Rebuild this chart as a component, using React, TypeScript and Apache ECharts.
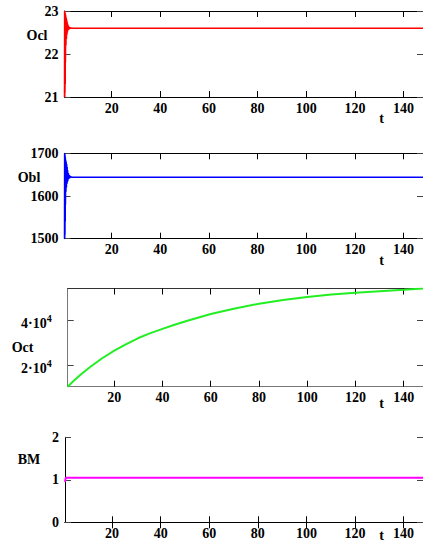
import React, { useEffect, useRef } from "react";
import * as echarts from "echarts";

// ---- data ----
const tickT = [20, 40, 60, 80, 100, 120, 140];

const oclT = [0.6, 0.65, 0.7, 0.75, 0.8, 0.85, 0.9, 0.95, 1.0, 1.1, 1.2, 1.3, 1.4, 1.5, 1.6, 1.7, 1.8, 1.9, 2.0, 2.2, 2.4, 2.6, 2.8, 3.0, 3.5, 148];
const oclV = [21.0, 23.0, 21.0, 23.0, 21.1, 22.95, 21.3, 22.95, 21.8, 22.9, 22.2, 22.85, 22.35, 22.8, 22.45, 22.75, 22.5, 22.7, 22.55, 22.66, 22.57, 22.63, 22.59, 22.61, 22.6, 22.6];

const oblT = [0.6, 0.65, 0.7, 0.75, 0.8, 0.85, 0.9, 0.95, 1.0, 1.1, 1.2, 1.3, 1.4, 1.5, 1.6, 1.7, 1.8, 1.9, 2.0, 2.2, 2.4, 2.6, 2.8, 3.0, 3.5, 148];
const oblV = [1500, 1700, 1500, 1700, 1510, 1695, 1540, 1690, 1580, 1685, 1610, 1680, 1620, 1675, 1628, 1668, 1632, 1660, 1636, 1654, 1640, 1649, 1642, 1646, 1644, 1644];

const octT = [0.7, 3, 6, 10, 15, 20, 25, 30, 35, 40, 45, 50, 55, 60, 70, 80, 90, 100, 110, 120, 130, 140, 148];
const octV = [10500, 12900, 15800, 19300, 23200, 26600, 29500, 32200, 34400, 36300, 38100, 39800, 41400, 42900, 45400, 47500, 49200, 50500, 51600, 52400, 53100, 53700, 54300];

const bmT = [0.6, 0.8, 1.0, 1.5, 148];
const bmV = [0.95, 1.02, 1.05, 1.05, 1.05];

const octTicks = [20000, 40000];

const FONT = "'Liberation Serif', 'Times New Roman', Times, serif";
const txt = { fontFamily: FONT, fontWeight: "bold" as const, fontSize: 14, color: "#000" };

const pairs = (t: number[], v: number[]) => t.map((x, i) => [x, v[i]]);

export default function App() {
  const ref = useRef<HTMLDivElement>(null);
  useEffect(() => {
    if (!ref.current) return;
    const chart = echarts.init(ref.current, undefined, { renderer: "svg" });

    const grids = [
      { left: 64.5, top: 11, width: 359, height: 86 },
      { left: 64.5, top: 153.3, width: 359, height: 85.4 },
      { left: 67.7, top: 288.5, width: 355.6, height: 98.2 },
      { left: 65, top: 437.3, width: 358.5, height: 85 },
    ];
    const xMins = [0.6, 0.6, 0.7, 0.6];
    const lineCols = [
      ["#000", "#000"],
      ["#000", "#000"],
      ["#777", "#333"],
      ["#000", "#000"],
    ];

    const xAxis: any[] = [];
    const yAxis: any[] = [];
    grids.forEach((g, i) => {
      const base = {
        type: "value",
        gridIndex: i,
        min: xMins[i],
        max: 148,
        splitLine: { show: false },
        axisLine: { show: true, lineStyle: { color: lineCols[i][0], width: 1 } },
        axisTick: { show: true, inside: true, length: 6, customValues: tickT, lineStyle: { color: "#000" } },
      };
      xAxis.push({
        ...base,
        position: "bottom",
        axisLabel: { ...txt, margin: 4, customValues: tickT, formatter: (v: number) => String(v) },
      });
      xAxis.push({
        ...base,
        position: "top",
        axisLine: { show: true, lineStyle: { color: lineCols[i][1], width: 1 } },
        axisLabel: { show: false, customValues: tickT },
      });
    });

    const yDefs: any[] = [
      { min: 21, max: 23, interval: 1 },
      { min: 1500, max: 1700, interval: 100 },
      { min: 10500, max: 54300 },
      { min: 0, max: 2, interval: 1 },
    ];
    yDefs.forEach((d, i) => {
      const isOct = i === 2;
      const base: any = {
        type: "value",
        gridIndex: i,
        ...d,
        splitLine: { show: false },
        axisLine: { show: true, lineStyle: { color: lineCols[i][0], width: 1 } },
        axisTick: isOct
          ? { show: true, inside: true, length: 6, customValues: octTicks, lineStyle: { color: "#444" } }
          : { show: true, inside: true, length: 6, lineStyle: { color: "#444" } },
      };
      yAxis.push({
        ...base,
        position: "left",
        axisLabel: isOct
          ? {
              customValues: octTicks,
              margin: 16,
              formatter: (v: number) => `{a|${Math.round(v / 10000)}·10}{s|4}`,
              rich: {
                a: { ...txt, padding: [6, 0, 0, 0] },
                s: { ...txt, fontSize: 10, padding: [0, 0, 4, 0] },
              },
            }
          : { ...txt, margin: 6, formatter: (v: number) => String(v) },
      });
      yAxis.push({
        ...base,
        position: "right",
        axisLine: { show: true, lineStyle: { color: lineCols[i][1], width: 1 } },
        axisLabel: { show: false },
      });
    });

    const mk = (i: number, data: number[][], color: string, w: number) => ({
      type: "line",
      xAxisIndex: i * 2,
      yAxisIndex: i * 2,
      data,
      showSymbol: false,
      symbol: "none",
      smooth: false,
      lineStyle: { color, width: w },
      z: 3,
    });

    const label = (text: string, x: number, y: number) => ({
      type: "text",
      x,
      y,
      style: {
        text,
        fill: "#000",
        fontFamily: FONT,
        fontWeight: "bold",
        fontSize: 14,
        align: "center",
        verticalAlign: "middle",
        textAlign: "center",
        textVerticalAlign: "middle",
      },
    });

    chart.setOption({
      animation: false,
      backgroundColor: "#fff",
      grid: grids.map((g) => ({ ...g, containLabel: false })),
      xAxis,
      yAxis,
      series: [
        mk(0, pairs(oclT, oclV), "#ff0000", 1.5),
        mk(1, pairs(oblT, oblV), "#0000ff", 1.5),
        mk(2, pairs(octT, octV), "#22ee22", 2),
        mk(3, pairs(bmT, bmV), "#ff00ff", 2),
      ],
      graphic: [
        label("Ocl", 37, 35),
        label("Obl", 29, 177),
        label("Oct", 22.5, 347),
        label("BM", 29, 459.5),
        label("t", 381.7, 118.5),
        label("t", 381.7, 260),
        label("t", 381.7, 403.5),
        label("t", 381.7, 535.5),
      ],
    });
    return () => chart.dispose();
  }, []);

  return (
    <div
      ref={ref}
      style={{ position: "fixed", left: 0, top: 0, width: 423, height: 543, background: "#fff" }}
    />
  );
}
